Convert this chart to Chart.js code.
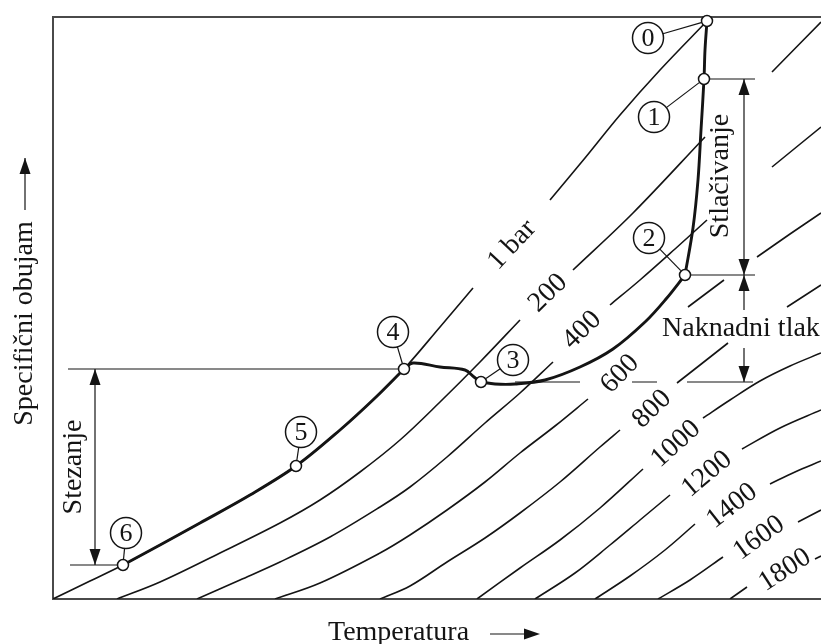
<!DOCTYPE html>
<html>
<head>
<meta charset="utf-8">
<title>Specifični obujam - Temperatura</title>
<script src="https://cdn.jsdelivr.net/npm/chart.js@4.4.1/dist/chart.umd.min.js"></script>
<style>
    html, body { margin: 0; padding: 0; background: #fff; }
    #wrap { width: 821px; height: 644px; }
</style>
</head>
<body>
<div id="wrap"><canvas id="chart" width="821" height="644"></canvas></div>
<script>
// Dijagram: specificni obujam u ovisnosti o temperaturi, izobare 1..1800 bar
// T = temperatura, V = specificni obujam (relativne jedinice ocitane sa slike)

const isoLabels = ['1 bar', '200', '400', '600', '800', '1000', '1200', '1400', '1600', '1800'];

// izobare, null = prekid linije (mjesto za oznaku)
const iso1 = [[0, 0], [37, 18], [70, 34], [107, 54], [147, 76], [197, 104], [243, 133], [287, 169], [322, 201], [351, 230], [387, 272], [420, 311], null, [497, 399], [532, 441], [567, 484], [607, 529], [654, 578]];
const iso200 = [[64, 0], [107, 17], [167, 46], [227, 76], [267, 99], [307, 127], [347, 159], [387, 197], [427, 237], [467, 279], null, [520, 329], [580, 386], [652, 462], null, [719, 527], [768, 577]];
const iso400 = [[144, 0], [187, 19], [227, 37], [277, 62], [327, 92], [357, 112], [394, 142], [432, 176], [467, 206], [500, 237], null, [557, 294], [587, 319], [622, 350], [654, 379], null, [719, 432], [768, 472]];
const iso600 = [[222, 0], [267, 16], [327, 46], [357, 64], [394, 89], [432, 117], [467, 146], [502, 173], [535, 200], null, [635, 292], [671, 319], null, [704, 342], [737, 365], [768, 386]];
const iso800 = [[327, 0], [357, 13], [394, 37], [432, 61], [467, 86], [507, 117], [547, 152], [567, 169], null, [624, 216], [647, 234], [675, 256], null, [734, 292], [768, 314]];
const iso1000 = [[424, 0], [467, 31], [507, 59], [547, 91], [590, 130], null, [650, 181], [677, 199], [707, 218], [737, 233], [768, 246]];
const iso1200 = [[482, 0], [522, 26], [557, 54], [587, 79], [617, 104], null, [689, 150], [727, 171], [768, 189]];
const iso1400 = [[542, 0], [577, 23], [612, 49], [642, 75], null, [717, 115], [742, 127], [768, 138]];
const iso1600 = [[605, 0], [637, 19], [670, 42], null, [745, 77], [768, 89]];
const iso1800 = [[677, 0], [694, 12], null, [762, 40], [768, 43]];

// tocke procesa 0..6
const stateNames = ['0', '1', '2', '3', '4', '5', '6'];
const stateT = [654, 651, 632, 428, 351, 243, 70];
const stateV = [578, 520, 324, 217, 230, 133, 34];

// tok procesa (debela linija)
const pathCompress = [[654, 578], [652, 549], [651, 520], [648, 469], [645, 419], [640, 371], [632, 324]];
const pathAfter = [[632, 324], [613, 300], [592, 277], [560, 250], [527, 232], [492, 219], [462, 215], [442, 215], [428, 217]];
const pathCool = [[428, 217], [421, 222], [412, 229], [387, 232], [360, 236], [351, 230]];
const pathShrink = [[351, 230], [322, 201], [287, 169], [243, 133], [197, 104], [147, 76], [107, 54], [70, 34]];

// pomocne horizontale za kote
const guide4 = [[15, 230], [351, 230]];
const guide6 = [[17, 34], [70, 34]];
const guide1 = [[651, 520], [702, 520]];
const guide2 = [[632, 324], [702, 324]];
const guide3 = [[462, 217], [527, 217], null, [579, 217], [604, 217], null, [634, 217], [700, 217]];

const ink = '#141414';
const serif = '"Liberation Serif", "Times New Roman", serif';

function toPoints(list) {
    return list.map(p => p ? { x: p[0], y: p[1] } : { x: null, y: null });
}

const isobars = [iso1, iso200, iso400, iso600, iso800, iso1000, iso1200, iso1400, iso1600, iso1800];

const datasets = [];

datasets.push({
    label: 'Stanja',
    data: stateT.map((t, i) => ({ x: t, y: stateV[i] })),
    showLine: false,
    pointRadius: 5.5,
    pointBackgroundColor: '#fff',
    pointBorderColor: ink,
    pointBorderWidth: 1.5,
    clip: 10,
    order: 0
});

[pathCompress, pathAfter, pathCool, pathShrink].forEach(seg => {
    datasets.push({
        label: 'Proces',
        data: toPoints(seg),
        borderColor: ink,
        borderWidth: 2.9,
        pointRadius: 0,
        tension: 0.35,
        order: 1
    });
});

isobars.forEach((iso, i) => {
    datasets.push({
        label: isoLabels[i],
        data: toPoints(iso),
        borderColor: ink,
        borderWidth: 1.6,
        pointRadius: 0,
        tension: 0.35,
        spanGaps: false,
        order: 2
    });
});

[guide4, guide6, guide1, guide2, guide3].forEach(g => {
    datasets.push({
        label: 'kota',
        data: toPoints(g),
        borderColor: ink,
        borderWidth: 1.2,
        pointRadius: 0,
        tension: 0,
        spanGaps: false,
        order: 2
    });
});

// oznake izobara: [T, V, kut]
const isoLabelPos = [[459, 354, -47], [495, 306, -44], [529, 269, -44], [567, 225, -46], [599, 190, -44],
    [623, 155, -42], [654, 125, -40], [679, 93, -38], [706, 61, -36], [732, 29, -33]];

// kruzici s brojevima: [T, V]
const calloutPos = [[595, 561], [601, 482], [596, 361], [460, 239], [340, 267], [248, 167], [73, 66]];

function head(ctx, tx, ty, dx, dy, len, half) {
    const bx = tx - dx * len, by = ty - dy * len;
    ctx.beginPath();
    ctx.moveTo(tx, ty);
    ctx.lineTo(bx - dy * half, by + dx * half);
    ctx.lineTo(bx + dy * half, by - dx * half);
    ctx.closePath();
    ctx.fill();
}

function vArrow(ctx, x, y1, y2, tip1, tip2) {
    ctx.beginPath();
    ctx.moveTo(x, y1);
    ctx.lineTo(x, y2);
    ctx.stroke();
    if (tip1) head(ctx, x, y1, 0, y1 < y2 ? -1 : 1, 16, 5.5);
    if (tip2) head(ctx, x, y2, 0, y2 < y1 ? -1 : 1, 16, 5.5);
}

const drawing = {
    id: 'drawing',
    afterDatasetsDraw(chart) {
        const { ctx, chartArea: area, scales: { x, y } } = chart;
        const px = t => x.getPixelForValue(t);
        const py = v => y.getPixelForValue(v);

        ctx.save();
        ctx.fillStyle = ink;
        ctx.strokeStyle = ink;
        ctx.lineWidth = 1.2;

        // oznake izobara
        ctx.font = '28px ' + serif;
        ctx.textAlign = 'center';
        ctx.textBaseline = 'middle';
        isoLabelPos.forEach((p, i) => {
            ctx.save();
            ctx.translate(px(p[0]), py(p[1]));
            ctx.rotate(p[2] * Math.PI / 180);
            ctx.fillText(isoLabels[i], 0, 0);
            ctx.restore();
        });

        // kruzici i spojnice
        const r = 15.5;
        ctx.font = '26px ' + serif;
        calloutPos.forEach((c, i) => {
            const cx = px(c[0]), cy = py(c[1]);
            const sx = px(stateT[i]), sy = py(stateV[i]);
            const len = Math.hypot(sx - cx, sy - cy);
            const ux = (sx - cx) / len, uy = (sy - cy) / len;
            ctx.lineWidth = 1.2;
            ctx.beginPath();
            ctx.moveTo(cx + ux * r, cy + uy * r);
            ctx.lineTo(sx - ux * 6, sy - uy * 6);
            ctx.stroke();
            ctx.lineWidth = 1.5;
            ctx.beginPath();
            ctx.arc(cx, cy, r, 0, Math.PI * 2);
            ctx.fillStyle = '#fff';
            ctx.fill();
            ctx.stroke();
            ctx.fillStyle = ink;
            ctx.fillText(stateNames[i], cx, cy + 1);
        });

        // kote
        ctx.lineWidth = 1.2;
        vArrow(ctx, px(42), py(230), py(34), true, true);
        vArrow(ctx, px(691), py(520), py(324), true, true);
        vArrow(ctx, px(691), py(324), py(289), true, false);
        vArrow(ctx, px(691), py(217), py(251), true, false);

        ctx.font = '28px ' + serif;
        ctx.textAlign = 'center';
        ctx.textBaseline = 'middle';
        [['Stezanje', 21, 132], ['Stlačivanje', 668, 423]].forEach(t => {
            ctx.save();
            ctx.translate(px(t[1]), py(t[2]));
            ctx.rotate(-Math.PI / 2);
            ctx.fillText(t[0], 0, 0);
            ctx.restore();
        });
        ctx.textAlign = 'left';
        ctx.textBaseline = 'alphabetic';
        ctx.fillText('Naknadni tlak', px(609), py(263));

        // naslovi osi
        ctx.save();
        ctx.translate(area.left - 21, area.top + 306.5);
        ctx.rotate(-Math.PI / 2);
        ctx.textAlign = 'center';
        ctx.fillText('Specifični obujam', 0, 0);
        ctx.restore();
        vArrow(ctx, area.left - 28, area.top + 141, area.top + 193, true, false);

        ctx.textAlign = 'left';
        ctx.fillText('Temperatura', area.left + 275, area.bottom + 41);
        ctx.beginPath();
        ctx.moveTo(area.left + 437, area.bottom + 35);
        ctx.lineTo(area.left + 475, area.bottom + 35);
        ctx.stroke();
        head(ctx, area.left + 487, area.bottom + 35, 1, 0, 16, 5.5);

        ctx.restore();
    }
};

const hiddenAxis = {
    type: 'linear',
    ticks: { display: false },
    grid: { display: false, drawTicks: false },
    border: { display: true, color: '#4a4a4a', width: 2 }
};

new Chart(document.getElementById('chart'), {
    type: 'line',
    data: { datasets: datasets },
    options: {
        responsive: false,
        devicePixelRatio: 1,
        animation: false,
        layout: { padding: 0, autoPadding: false },
        plugins: {
            legend: { display: false },
            tooltip: { enabled: false }
        },
        scales: {
            x: Object.assign({}, hiddenAxis, { min: 0, max: 768, position: 'bottom', afterFit: s => { s.height = 45; } }),
            xTop: Object.assign({}, hiddenAxis, { min: 0, max: 768, position: 'top', afterFit: s => { s.height = 17; } }),
            y: Object.assign({}, hiddenAxis, { min: 0, max: 582, position: 'left', afterFit: s => { s.width = 53; } })
        }
    },
    plugins: [drawing]
});
</script>
</body>
</html>
